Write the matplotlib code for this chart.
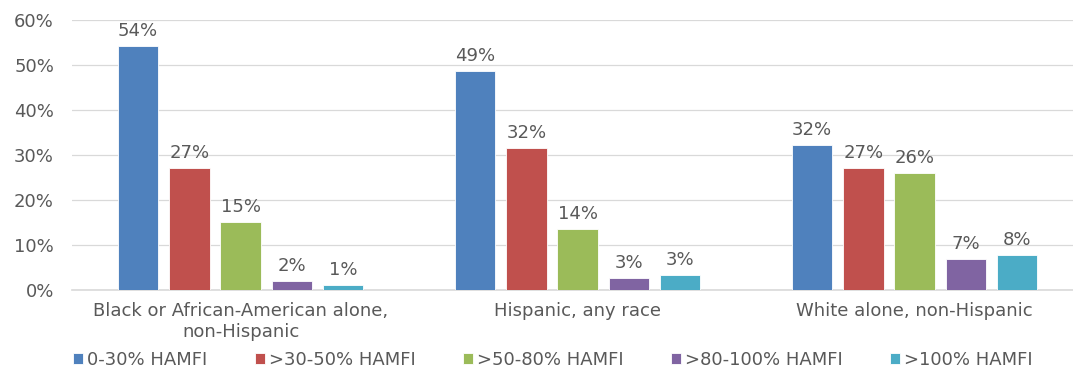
import matplotlib
matplotlib.use("Agg")
import matplotlib.pyplot as plt
import numpy as np

categories = ["Black or African-American alone,\nnon-Hispanic", "Hispanic, any race", "White alone, non-Hispanic"]
series_names = ["0-30% HAMFI", ">30-50% HAMFI", ">50-80% HAMFI", ">80-100% HAMFI", ">100% HAMFI"]
v_0_30 = [54.2, 48.7, 32.2]
v_30_50 = [27.1, 31.6, 27.1]
v_50_80 = [15.1, 13.6, 26.0]
v_80_100 = [2.1, 2.7, 6.9]
v_100 = [1.2, 3.3, 7.8]
labels_0_30 = ["54%", "49%", "32%"]
labels_30_50 = ["27%", "32%", "27%"]
labels_50_80 = ["15%", "14%", "26%"]
labels_80_100 = ["2%", "3%", "7%"]
labels_100 = ["1%", "3%", "8%"]
colors = ["#4F81BD", "#C0504D", "#9BBB59", "#8064A2", "#4BACC6"]

values = [v_0_30, v_30_50, v_50_80, v_80_100, v_100]
labels = [labels_0_30, labels_30_50, labels_50_80, labels_80_100, labels_100]

plt.rcParams['font.family'] = ['DejaVu Sans']
text_color = "#595959"
fs = 13

fig = plt.figure(figsize=(10.73, 3.70), dpi=100)
ax = fig.add_axes([72/1073, 80/370, 1001/1073, 270/370])

x = np.arange(len(categories))
step = 0.152
width = 0.12
for i, (vals, labs, c, name) in enumerate(zip(values, labels, colors, series_names)):
    pos = x + (i - 2) * step
    bars = ax.bar(pos, vals, width, color=c, edgecolor="white", linewidth=0.6, label=name, zorder=3)
    for b, lab in zip(bars, labs):
        ax.text(b.get_x() + b.get_width()/2, b.get_height() + 1.3, lab,
                ha="center", va="bottom", fontsize=fs, color=text_color)

ax.set_xlim(-0.5, 2.47)
ax.set_ylim(0, 60)
ax.set_yticks(np.arange(0, 61, 10))
ax.set_yticklabels([f"{v}%" for v in range(0, 61, 10)])
ax.set_xticks(x)
ax.set_xticklabels(categories, linespacing=1.15)
ax.tick_params(axis="both", length=0, labelsize=fs, colors=text_color)
ax.tick_params(axis="y", pad=13)
ax.tick_params(axis="x", pad=9)
ax.grid(axis="y", color="#D9D9D9", linewidth=0.9, zorder=0)
for s in ["top", "right", "left"]:
    ax.spines[s].set_visible(False)
ax.spines["bottom"].set_color("#D9D9D9")
ax.spines["bottom"].set_linewidth(1.2)

leg = fig.legend(loc="center", bbox_to_anchor=(553/1073, 1 - 360/370), ncol=5, frameon=False,
                 fontsize=fs, handlelength=0.55, handleheight=0.55, handletextpad=0.25,
                 columnspacing=2.6, labelcolor=text_color)

fig.savefig("out.png", dpi=100, facecolor="white")
